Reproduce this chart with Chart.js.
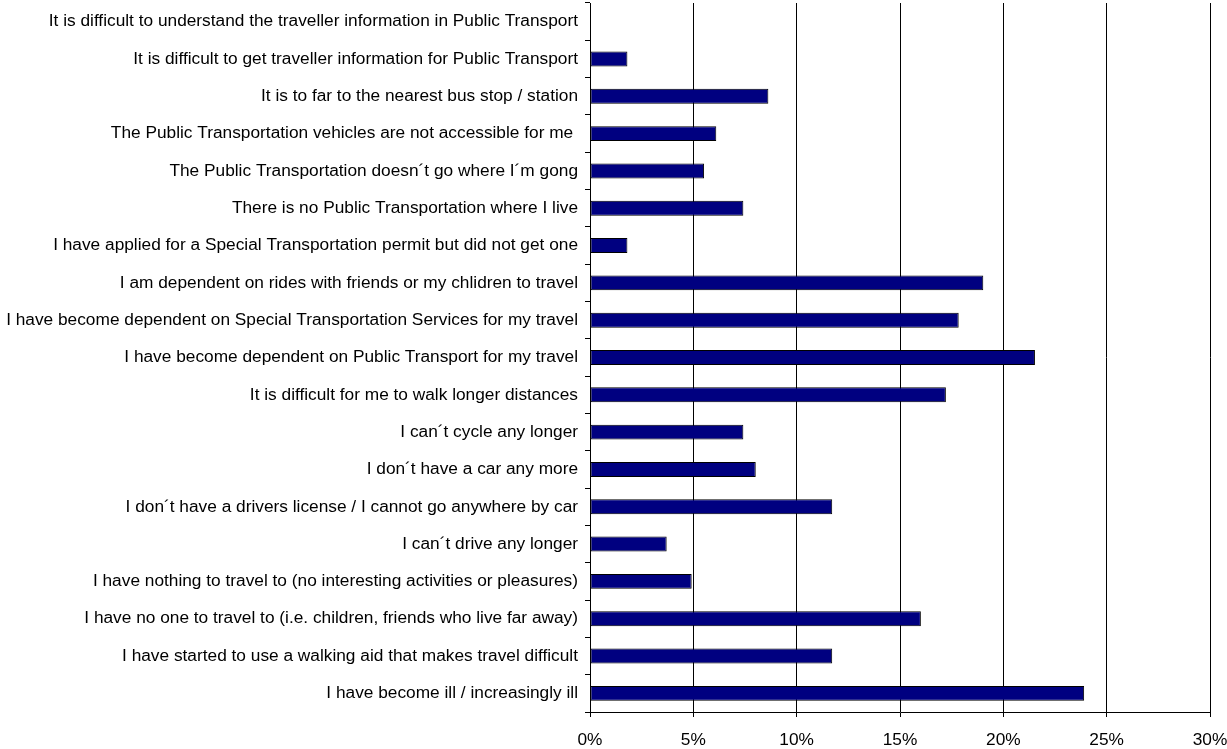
<!DOCTYPE html>
<html>
<head>
<meta charset="utf-8">
<script src="https://cdn.jsdelivr.net/npm/chart.js@4/dist/chart.umd.min.js"></script>
<style>
  html, body { margin: 0; padding: 0; background: #ffffff; }
  #wrap { width: 1227px; height: 749px; }
</style>
</head>
<body>
<div id="wrap"><canvas id="c" width="1227" height="749"></canvas></div>
<script>
const categories = [
  "It is difficult to understand the traveller information in Public Transport",
  "It is difficult to get traveller information for Public Transport",
  "It is to far to the nearest bus stop / station",
  "The Public Transportation vehicles are not accessible for me ",
  "The Public Transportation doesn\u00b4t go where I\u00b4m gong",
  "There is no Public Transportation where I live",
  "I have applied for a Special Transportation permit but did not get one",
  "I am dependent on rides with friends or my chlidren to travel",
  "I have become dependent on Special Transportation Services for my travel",
  "I have become dependent on Public Transport for my travel",
  "It is difficult for me to walk longer distances",
  "I can\u00b4t cycle any longer",
  "I don\u00b4t have a car any more",
  "I don\u00b4t have a drivers license / I cannot go anywhere by car",
  "I can\u00b4t drive any longer",
  "I have nothing to travel to (no interesting activities or pleasures)",
  "I have no one to travel to (i.e. children, friends who live far away)",
  "I have started to use a walking aid that makes travel difficult",
  "I have become ill / increasingly ill"
];
const values = [0, 1.81, 8.63, 6.11, 5.52, 7.42, 1.81, 19.03, 17.84, 21.53, 17.22, 7.42, 8.02, 11.72, 3.71, 4.92, 16.01, 11.72, 23.91];
const xTickLabels = ["0%", "5%", "10%", "15%", "20%", "25%", "30%"];

const FONT = { family: "'Liberation Sans', Arial, sans-serif", size: 17.3 };

new Chart(document.getElementById('c'), {
  type: 'bar',
  data: {
    labels: categories,
    datasets: [{
      data: values,
      backgroundColor: '#000080',
      borderColor: '#000000',
      borderWidth: 1,
      borderSkipped: false,
      barPercentage: 0.8,
      categoryPercentage: 0.5
    }]
  },
  options: {
    indexAxis: 'y',
    responsive: false,
    animation: false,
    layout: { padding: { top: 3, right: 17, left: 0, bottom: 0 } },
    plugins: { legend: { display: false }, tooltip: { enabled: false } },
    scales: {
      x: {
        min: 0, max: 30,
        ticks: {
          stepSize: 5,
          color: '#000',
          font: FONT,
          padding: 13,
          maxRotation: 0,
          callback: (v, i) => xTickLabels[i]
        },
        grid: { color: '#000', lineWidth: 1, tickLength: 5, drawOnChartArea: true },
        border: { color: '#000', width: 1 },
        afterFit: (s) => { s.height = 37; s.paddingLeft = 0; s.paddingRight = 0; }
      },
      y: {
        ticks: { color: '#000', font: FONT, padding: 7, autoSkip: false },
        grid: { offset: true, drawOnChartArea: false, color: '#000', tickLength: 5 },
        border: { color: '#000', width: 1 },
        afterFit: (s) => { s.width = 590; s.paddingTop = 0; s.paddingBottom = 0; }
      }
    }
  }
});
</script>
</body>
</html>
